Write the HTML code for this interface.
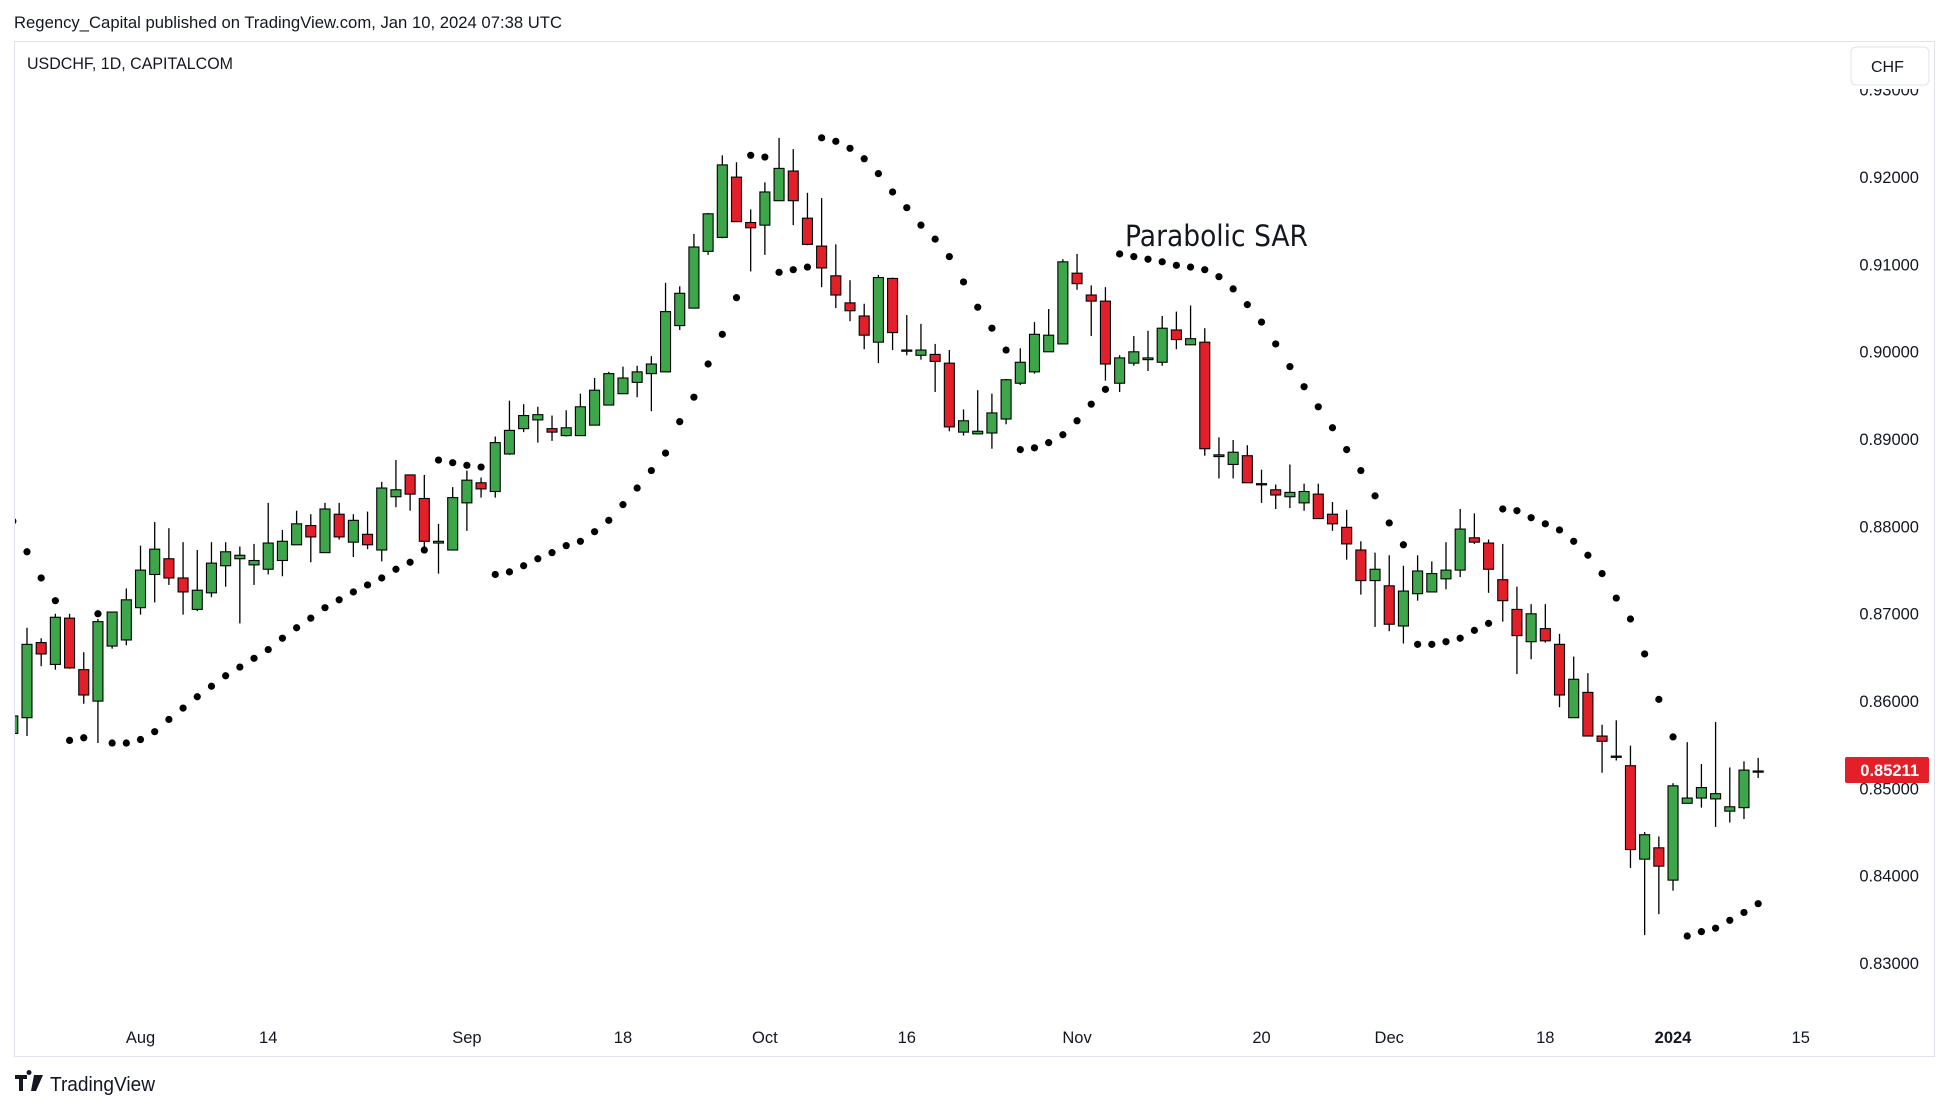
<!DOCTYPE html>
<html><head><meta charset="utf-8"><title>USDCHF Parabolic SAR</title>
<style>
html,body{margin:0;padding:0;background:#fff;}
body{width:1950px;height:1110px;overflow:hidden;font-family:"Liberation Sans","DejaVu Sans",sans-serif;}
svg{display:block;}
</style></head>
<body>
<svg id="chart" width="1950" height="1110" viewBox="0 0 1950 1110" xmlns="http://www.w3.org/2000/svg">
  <defs><clipPath id="plotclip"><rect x="15" y="42" width="1830" height="1013"/></clipPath></defs>
  <rect x="0" y="0" width="1950" height="1110" fill="#ffffff"/>
  <text x="14" y="28" font-size="16.5" fill="#131722" textLength="548" lengthAdjust="spacingAndGlyphs">Regency_Capital published on TradingView.com, Jan 10, 2024 07:38 UTC</text>
  <rect x="14.5" y="41.5" width="1920" height="1015" fill="#ffffff" stroke="#e0e3eb" stroke-width="1"/>
  <text x="27" y="69" font-size="16.5" fill="#131722" textLength="206" lengthAdjust="spacingAndGlyphs">USDCHF, 1D, CAPITALCOM</text>
  <g id="yaxis"></g>
  <g id="xaxis"></g>
  <g id="plot" clip-path="url(#plotclip)"></g>
  <text x="1125" y="246" font-family="DejaVu Sans, sans-serif" font-size="29" fill="#131722" textLength="183" lengthAdjust="spacingAndGlyphs">Parabolic SAR</text>
  <rect x="1845" y="42" width="88" height="47" fill="#ffffff"/>
  <g>
    <rect x="1851" y="47" width="78" height="38" rx="5" fill="#ffffff" stroke="#e0e3eb"/>
    <text x="1871" y="72" font-size="16" fill="#131722">CHF</text>
  </g>
  <g>
    <rect x="1845" y="757" width="84" height="26" rx="2" fill="#e3202a"/>
    <text x="1919" y="776" font-size="16.5" font-weight="bold" fill="#ffffff" text-anchor="end">0.85211</text>
  </g>
  <g>
    <path d="M15 1075 h12 v4 h-4 v12 h-4 v-12 h-4z M29 1075 a2.5 2.5 0 1 1 0.01 0 M34 1075 h9 l-7 16 h-5z" fill="#131722"/>
    <text x="50" y="1091" font-size="20" fill="#131722" textLength="105" lengthAdjust="spacingAndGlyphs">TradingView</text>
  </g>
</svg>
<script>
// ---- data (Jul 19 2023 .. Jan 10 2024, daily) ----
const opens  = [.8564,.8582,.8668,.8643,.8696,.8637,.8601,.8664,.8671,.8708,.8746,.8764,.8742,.8706,.8725,.8756,.8764,.8757,.8752,.8762,.8780,.8802,.8771,.8815,.8783,.8792,.8774,.8835,.8860,.8833,.8782,.8774,.8828,.8851,.8841,.8884,.8913,.8923,.8913,.8905,.8905,.8917,.8940,.8953,.8966,.8976,.8978,.9031,.9051,.9116,.9132,.9201,.9149,.9146,.9174,.9208,.9154,.9122,.9088,.9057,.9042,.9012,.9085,.9003,.8997,.8998,.8988,.8909,.8907,.8908,.8924,.8965,.8978,.9001,.9010,.9091,.9066,.9059,.8965,.8988,.8992,.8989,.9026,.9009,.9012,.8883,.8872,.8882,.8850,.8843,.8835,.8828,.8838,.8815,.8800,.8774,.8739,.8733,.8687,.8724,.8726,.8741,.8751,.8788,.8782,.8740,.8706,.8669,.8684,.8666,.8582,.8611,.8561,.8538,.8527,.8420,.8433,.8396,.8484,.8490,.8489,.8475,.8479,.8521];
const highs  = [.8584,.8685,.8673,.8701,.8701,.8657,.8695,.8703,.8730,.8779,.8806,.8799,.8783,.8774,.8783,.8783,.8778,.8781,.8828,.8797,.8819,.8815,.8828,.8828,.8815,.8818,.8852,.8877,.8860,.8860,.8804,.8846,.8865,.8857,.8904,.8945,.8941,.8938,.8928,.8934,.8953,.8971,.8978,.8984,.8985,.8996,.9080,.9076,.9136,.9160,.9226,.9218,.9164,.9195,.9246,.9233,.9183,.9177,.9124,.9083,.9056,.9089,.9086,.9043,.9033,.9010,.9003,.8935,.8957,.8953,.8970,.9005,.9035,.9050,.9107,.9113,.9077,.9075,.8997,.9019,.9025,.9042,.9047,.9054,.9028,.8903,.8900,.8894,.8866,.8849,.8872,.8850,.8850,.8829,.8820,.8784,.8771,.8768,.8756,.8768,.8761,.8783,.8821,.8816,.8786,.8781,.8732,.8712,.8712,.8678,.8652,.8633,.8574,.8579,.8550,.8451,.8446,.8507,.8554,.8529,.8577,.8525,.8532,.8536];
const lows   = [.8562,.8561,.8641,.8637,.8638,.8598,.8553,.8661,.8665,.8700,.8714,.8734,.8700,.8704,.8720,.8732,.8690,.8734,.8746,.8744,.8780,.8760,.8771,.8786,.8766,.8775,.8761,.8823,.8819,.8771,.8747,.8774,.8796,.8834,.8834,.8883,.8909,.8897,.8899,.8904,.8905,.8917,.8940,.8953,.8949,.8933,.8978,.9026,.9051,.9112,.9131,.9150,.9093,.9112,.9174,.9146,.9123,.9075,.9051,.9036,.9004,.8988,.9003,.8997,.8992,.8955,.8910,.8905,.8907,.8890,.8918,.8963,.8976,.9001,.9010,.9072,.9019,.8968,.8955,.8985,.8979,.8985,.9004,.9009,.8882,.8856,.8856,.8851,.8828,.8821,.8822,.8819,.8810,.8796,.8763,.8723,.8686,.8681,.8667,.8716,.8726,.8729,.8743,.8781,.8725,.8692,.8632,.8649,.8668,.8594,.8582,.8561,.8519,.8533,.8410,.8333,.8357,.8384,.8484,.8479,.8457,.8462,.8466,.8513];
const closes = [.8584,.8666,.8655,.8697,.8639,.8608,.8692,.8703,.8717,.8751,.8775,.8742,.8726,.8728,.8759,.8772,.8768,.8762,.8782,.8784,.8804,.8789,.8821,.8789,.8808,.8780,.8845,.8843,.8838,.8784,.8784,.8834,.8854,.8844,.8897,.8911,.8928,.8929,.8909,.8914,.8938,.8957,.8976,.8971,.8978,.8987,.9047,.9068,.9121,.9159,.9215,.9150,.9143,.9184,.9211,.9174,.9124,.9097,.9066,.9048,.9020,.9086,.9023,.9003,.9003,.8990,.8915,.8922,.8910,.8931,.8969,.8989,.9021,.9020,.9104,.9079,.9059,.8987,.8994,.9001,.8994,.9028,.9015,.9016,.8890,.8881,.8886,.8851,.8850,.8837,.8840,.8841,.8810,.8804,.8781,.8739,.8752,.8689,.8727,.8750,.8747,.8751,.8798,.8783,.8752,.8716,.8676,.8701,.8670,.8608,.8626,.8561,.8555,.8538,.8431,.8448,.8412,.8504,.8490,.8502,.8495,.8480,.8522,.8521];
const sar    = [.8807,.8772,.8742,.8716,.8556,.8559,.8701,.8553,.8553,.8557,.8566,.8580,.8593,.8606,.8618,.8630,.8640,.8650,.8660,.8673,.8685,.8696,.8708,.8717,.8726,.8734,.8742,.8752,.8760,.8774,.8877,.8874,.8871,.8869,.8746,.8749,.8756,.8764,.8771,.8779,.8784,.8795,.8808,.8826,.8845,.8865,.8885,.8921,.8949,.8987,.9021,.9063,.9226,.9224,.9092,.9095,.9098,.9246,.9242,.9234,.9222,.9205,.9184,.9166,.9146,.9130,.9110,.9081,.9052,.9028,.9003,.8889,.8891,.8897,.8906,.8922,.8941,.8958,.9113,.9110,.9107,.9104,.9100,.9098,.9095,.9087,.9073,.9055,.9035,.9010,.8984,.8961,.8938,.8914,.8889,.8865,.8836,.8805,.8780,.8666,.8666,.8669,.8673,.8682,.8690,.8821,.8819,.8811,.8804,.8797,.8784,.8768,.8747,.8719,.8695,.8655,.8603,.8560,.8332,.8337,.8341,.8350,.8359,.8369];
const priceTicks = [0.93,0.92,0.91,0.90,0.89,0.88,0.87,0.86,0.85,0.84,0.83];
const timeTickIndex = [9,18,32,43,53,63,75,88,97,108,117,126];
const timeTickLabels = ["Aug","14","Sep","18","Oct","16","Nov","20","Dec","18","2024","15"];

// ---- axis functions ----
const Y0 = 178, PX_PER_UNIT = 8733;
function yScale(p){ return Y0 + (0.92 - p) * PX_PER_UNIT; }
const X0 = 12.8, BAR = 14.19;
function xScale(i){ return X0 + i * BAR; }

const NS = "http://www.w3.org/2000/svg";
function mk(tag, attrs){ const e=document.createElementNS(NS,tag); for(const k in attrs) e.setAttribute(k,attrs[k]); return e; }

const yaxis=document.getElementById('yaxis');
priceTicks.forEach(p=>{
  const t=mk('text',{x:1919,y:yScale(p)+5,'font-size':16.5,fill:'#131722','text-anchor':'end'});
  
  
  t.textContent=p.toFixed(5);
  yaxis.appendChild(t);
});
const xaxis=document.getElementById('xaxis');
timeTickIndex.forEach((i,k)=>{
  const t=mk('text',{x:xScale(i),y:1043,'font-size':16.5,fill:'#131722','text-anchor':'middle','font-weight':timeTickLabels[k]==='2024'?'bold':'normal'});
  
  
  t.textContent=timeTickLabels[k];
  xaxis.appendChild(t);
});

const plot=document.getElementById('plot');
const GREEN='#3da64a', RED='#e3202a', BW=10;
for(let i=0;i<opens.length;i++){
  const x=xScale(i), o=opens[i], c=closes[i];
  const g=mk('g',{});
  
  
  const w=mk('line',{x1:x,x2:x,y1:yScale(highs[i]),y2:yScale(lows[i]),stroke:'#000','stroke-width':1.3});
  
  
  g.appendChild(w);
  const top=yScale(Math.max(o,c)), bot=yScale(Math.min(o,c));
  const h=Math.max(bot-top,1.2);
  const b=mk('rect',{x:x-BW/2,y:top,width:BW,height:h,fill:c>=o?GREEN:RED,stroke:'#000','stroke-width':1.1});
  
  
  g.appendChild(b);
  plot.appendChild(g);
}
for(let i=0;i<sar.length;i++){
  const d=mk('circle',{cx:xScale(i),cy:yScale(sar[i]),r:3.6,fill:'#000'});
  
  
  plot.appendChild(d);
}
</script>
</body></html>
